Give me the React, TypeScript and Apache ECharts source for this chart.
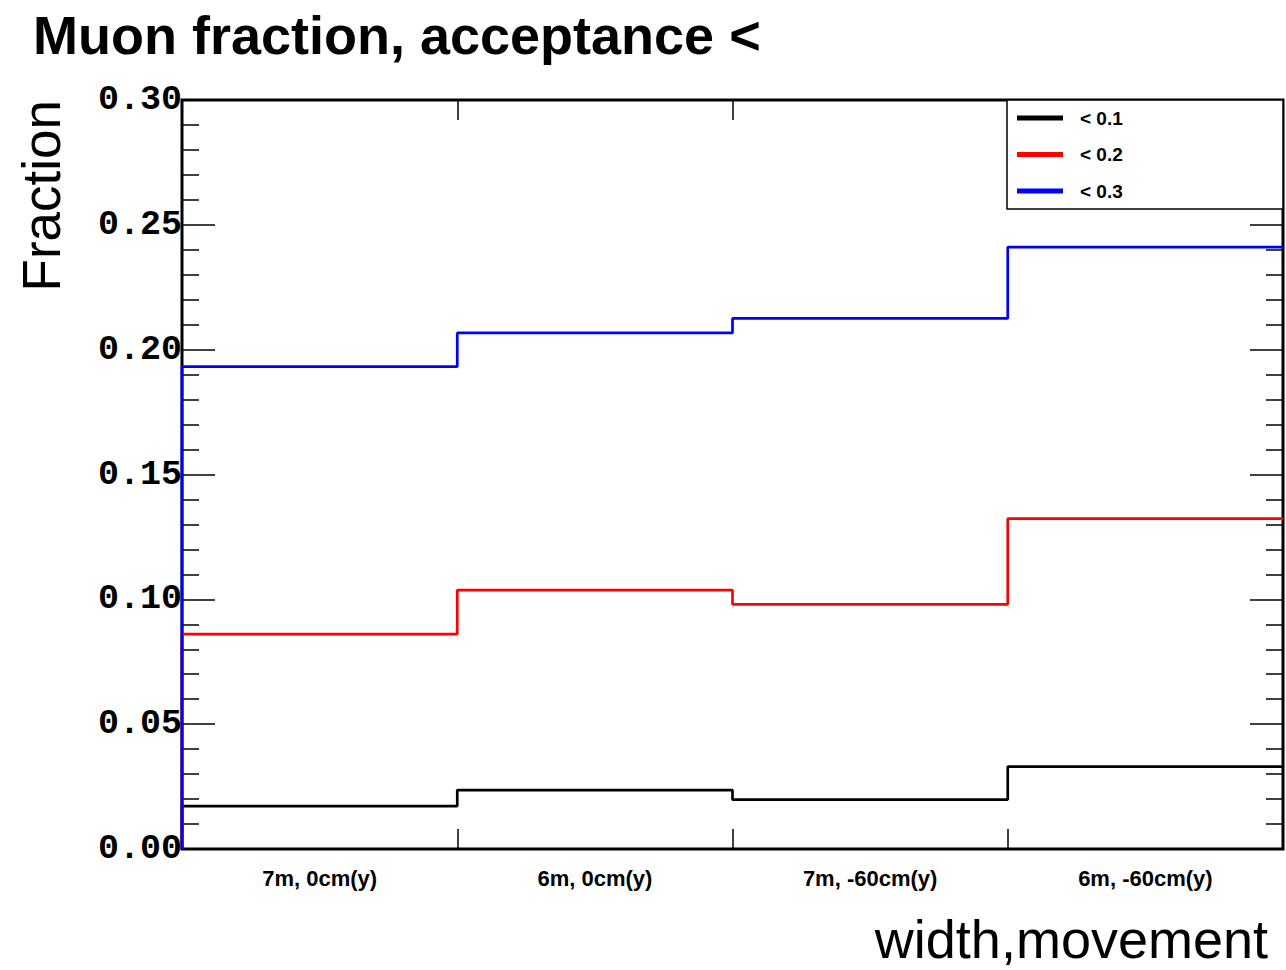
import React, { useEffect, useRef } from "react";
import * as echarts from "echarts";

const categories = ["7m, 0cm(y)", "6m, 0cm(y)", "7m, -60cm(y)", "6m, -60cm(y)"];
const seriesNames = ["< 0.1", "< 0.2", "< 0.3"];
const black01 = [0.0172, 0.0236, 0.0198, 0.0330];
const red02 = [0.0861, 0.1037, 0.0980, 0.1323];
const blue03 = [0.1932, 0.2067, 0.2125, 0.2411];
const seriesColors = ["#000000", "#ff0000", "#0000ff"];
const yMin = 0;
const yMax = 0.3;
const yInterval = 0.05;

function stepData(vals: number[]): number[][] {
  const pts: number[][] = [[0, 0]];
  vals.forEach((v, i) => pts.push([i, v]));
  pts.push([vals.length, vals[vals.length - 1]]);
  return pts;
}

export default function App() {
  const ref = useRef<HTMLDivElement>(null);
  useEffect(() => {
    if (!ref.current) return;
    const chart = echarts.init(ref.current, null, { renderer: "svg" });
    const allVals = [black01, red02, blue03];
    const n = categories.length;
    const tickStyle = { color: "#000", width: 1.5 };
    chart.setOption({
      animation: false,
      backgroundColor: "#ffffff",
      title: {
        text: "Muon fraction, acceptance <",
        left: 33,
        top: 8,
        padding: 0,
        textStyle: {
          fontFamily: "Liberation Sans",
          fontWeight: "bold",
          fontSize: 54,
          color: "#000",
        },
      },
      grid: {
        left: 182,
        top: 100,
        right: 3,
        bottom: 121,
        show: true,
        borderColor: "#000",
        borderWidth: 3,
        backgroundColor: "transparent",
      },
      legend: {
        orient: "vertical",
        left: 1017,
        top: 108,
        padding: 0,
        itemGap: 16.5,
        itemWidth: 46,
        itemHeight: 5,
        icon: "rect",
        data: seriesNames,
        textStyle: {
          fontFamily: "Liberation Sans",
          fontWeight: "bold",
          fontSize: 19,
          color: "#000",
          lineHeight: 20,
          padding: [0, 0, 0, 12],
        },
        z: 10,
      },
      xAxis: [
        {
          type: "value",
          min: 0,
          max: n,
          interval: 1,
          position: "bottom",
          axisLine: { show: false, onZero: false },
          axisLabel: { show: false },
          axisTick: { show: true, inside: true, length: 20, lineStyle: tickStyle },
          splitLine: { show: false },
        },
        {
          type: "value",
          min: 0,
          max: n,
          interval: 1,
          position: "top",
          axisLine: { show: false, onZero: false },
          axisLabel: { show: false },
          axisTick: { show: true, inside: true, length: 20, lineStyle: tickStyle },
          splitLine: { show: false },
        },
        {
          type: "category",
          data: categories,
          position: "bottom",
          boundaryGap: true,
          axisLine: { show: false, onZero: false },
          axisTick: { show: false },
          splitLine: { show: false },
          axisLabel: {
            margin: 18,
            fontFamily: "Liberation Sans",
            fontWeight: "bold",
            fontSize: 22,
            color: "#000",
          },
        },
      ],
      yAxis: [
        {
          type: "value",
          min: yMin,
          max: yMax,
          interval: yInterval,
          position: "left",
          axisLine: { show: false, onZero: false },
          axisTick: { show: true, inside: true, length: 33, lineStyle: tickStyle },
          minorTick: { show: true, splitNumber: 5, length: 17, lineStyle: tickStyle },
          splitLine: { show: false },
          axisLabel: {
            margin: 0,
            padding: [8, 0, 0, 0],
            formatter: (v: number) => v.toFixed(2),
            fontFamily: "Liberation Mono",
            fontWeight: "bold",
            fontSize: 35,
            color: "#000",
          },
        },
        {
          type: "value",
          min: yMin,
          max: yMax,
          interval: yInterval,
          position: "right",
          axisLine: { show: false, onZero: false },
          axisTick: { show: true, inside: true, length: 33, lineStyle: tickStyle },
          minorTick: { show: true, splitNumber: 5, length: 17, lineStyle: tickStyle },
          splitLine: { show: false },
          axisLabel: { show: false },
        },
      ],
      series: seriesNames.map((name, i) => ({
        name,
        type: "line",
        step: "end",
        xAxisIndex: 0,
        yAxisIndex: 0,
        symbol: "none",
        color: seriesColors[i],
        lineStyle: { color: seriesColors[i], width: 2.7 },
        data: stepData(allVals[i]),
        z: 2 + i,
      })),
      graphic: [
        {
          type: "rect",
          shape: { x: 1007, y: 100, width: 276, height: 109 },
          style: { fill: "#ffffff", stroke: "#000", lineWidth: 1.5 },
          z: 5,
        },
        {
          type: "text",
          x: 68,
          y: 100,
          rotation: Math.PI / 2,
          style: {
            text: "Fraction",
            align: "right",
            verticalAlign: "bottom",
            fontFamily: "Liberation Sans",
            fontSize: 53,
            fill: "#000",
          },
        },
        {
          type: "text",
          x: 1268,
          y: 966,
          style: {
            text: "width,movement",
            align: "right",
            verticalAlign: "bottom",
            fontFamily: "Liberation Sans",
            fontSize: 54,
            fill: "#000",
          },
        },
      ],
    });
    return () => chart.dispose();
  }, []);
  return (
    <div
      ref={ref}
      style={{ position: "fixed", left: 0, top: 0, width: 1286, height: 970, background: "#fff" }}
    />
  );
}
